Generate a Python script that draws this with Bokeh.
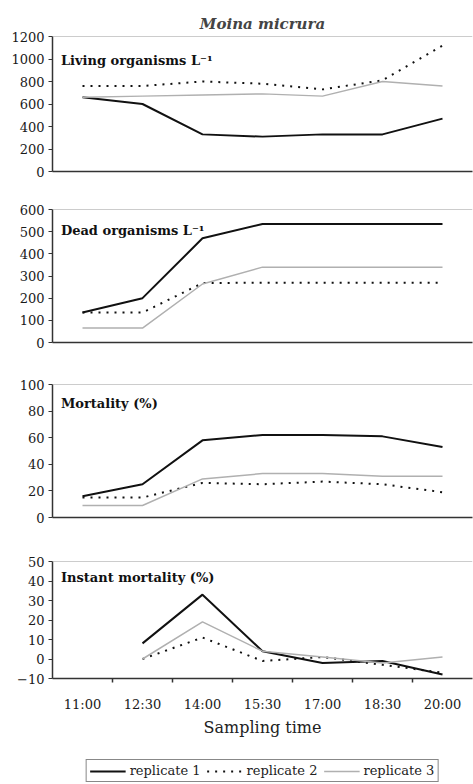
from bokeh.plotting import figure
from bokeh.models import (Range1d, LinearAxis, FixedTicker, Span,
                          Label, Legend, LegendItem)
from bokeh.layouts import column
from bokeh.embed import file_html
from bokeh.resources import INLINE

# ---------------- data ----------------
times = ["11:00", "12:30", "14:00", "15:30", "17:00", "18:30", "20:00"]
series_names = ["replicate 1", "replicate 2", "replicate 3"]

living_r1 = [660, 600, 330, 310, 330, 330, 470]
living_r2 = [760, 760, 800, 780, 730, 810, 1120]
living_r3 = [660, 670, 680, 690, 670, 800, 760]
living_ticks = [0, 200, 400, 600, 800, 1000, 1200]

dead_r1 = [135, 200, 470, 535, 535, 535, 535]
dead_r2 = [135, 135, 268, 270, 270, 270, 270]
dead_r3 = [65, 65, 264, 340, 340, 340, 340]
dead_ticks = [0, 100, 200, 300, 400, 500, 600]

mort_r1 = [16, 25, 58, 62, 62, 61, 53]
mort_r2 = [15, 15, 26, 25, 27, 25, 19]
mort_r3 = [9, 9, 29, 33, 33, 31, 31]
mort_ticks = [0, 20, 40, 60, 80, 100]

inst_times = times[1:]
inst_r1 = [8, 33, 4, -2, -1, -8]
inst_r2 = [0, 11, -1, 1, -3, -7]
inst_r3 = [0, 19, 4, 1, -2, 1]
inst_ticks = [-10, 0, 10, 20, 30, 40, 50]

# category slot centres on a numeric axis (category i occupies [i, i+1])
centres = {t: i + 0.5 for i, t in enumerate(times)}
boundaries = list(range(1, len(times)))

# ---------------- style ----------------
SERIF = "DejaVu Serif"
AX = "#333333"
styles = [
    dict(line_color="#111111", line_width=2),
    dict(line_color="#111111", line_width=2, line_dash="2 6"),
    dict(line_color="#b0b0b0", line_width=1.5),
]


def make_panel(cats, ys_list, ticks, label_text, label_y, frame_h, top, bottom, last=False):
    p = figure(x_range=Range1d(0, len(times)), y_range=Range1d(ticks[0], ticks[-1]),
               frame_width=420, frame_height=frame_h,
               min_border_left=52, min_border_right=1,
               min_border_top=top, min_border_bottom=bottom,
               x_axis_location=None, toolbar_location=None,
               output_backend="svg", background_fill_color="white",
               border_fill_color="white")
    p.outline_line_color = None
    p.xgrid.grid_line_color = None
    p.ygrid.grid_line_color = None

    ya = p.yaxis[0]
    ya.ticker = FixedTicker(ticks=ticks)
    ya.axis_line_color = AX
    ya.axis_line_width = 1.5
    ya.major_tick_line_color = AX
    ya.major_tick_out = 4
    ya.major_tick_in = 0
    ya.minor_tick_line_color = None
    ya.major_label_standoff = 4
    ya.major_label_text_font = SERIF
    ya.major_label_text_font_size = "13px"
    ya.major_label_text_color = "#1a1a1a"

    if last:
        xa = LinearAxis(ticker=FixedTicker(ticks=[centres[t] for t in times],
                                           minor_ticks=boundaries),
                        major_label_overrides={centres[t]: t for t in times},
                        axis_line_color=AX, axis_line_width=1.5,
                        major_tick_line_color=None, major_tick_out=0, major_tick_in=0,
                        minor_tick_line_color=AX, minor_tick_out=4, minor_tick_in=0,
                        minor_tick_line_width=1.5,
                        major_label_standoff=14,
                        major_label_text_font=SERIF,
                        major_label_text_font_size="13px",
                        major_label_text_color="#1a1a1a",
                        axis_label="Sampling time",
                        axis_label_text_font=SERIF,
                        axis_label_text_font_style="normal",
                        axis_label_text_font_size="16px",
                        axis_label_text_color="#222222",
                        axis_label_standoff=3)
    else:
        xa = LinearAxis(ticker=FixedTicker(ticks=[]),
                        axis_line_color=AX, axis_line_width=1.5,
                        major_tick_line_color=None, minor_tick_line_color=None,
                        major_tick_out=0, major_tick_in=0)
    p.add_layout(xa, "below")

    xs = [centres[t] for t in cats]
    renderers = []
    for ys, st in zip(ys_list, styles):
        r = p.line(xs, ys, **st)
        renderers.append(r)

    p.add_layout(Span(location=ticks[-1], dimension="width", line_color="#9a9a9a", line_width=1))

    p.add_layout(Label(x=0.14, y=label_y, text=label_text,
                       text_font=SERIF, text_font_style="bold", text_font_size="13px",
                       text_baseline="middle", text_color="#111111"))
    return p, renderers


p1, _ = make_panel(times, [living_r1, living_r2, living_r3], living_ticks,
                   "Living organisms L\u207b\u00b9", 990, 135, 36, 19)
p1.title.text = "Moina micrura"
p1.title.align = "center"
p1.title.text_font = SERIF
p1.title.text_font_style = "bold italic"
p1.title.text_font_size = "15px"
p1.title.standoff = 8

p2, _ = make_panel(times, [dead_r1, dead_r2, dead_r3], dead_ticks,
                   "Dead organisms L\u207b\u00b9", 505, 133, 19, 21)
p3, _ = make_panel(times, [mort_r1, mort_r2, mort_r3], mort_ticks,
                   "Mortality (%)", 86, 133, 21, 22)
p4, _ = make_panel(inst_times, [inst_r1, inst_r2, inst_r3], inst_ticks,
                   "Instant mortality (%)", 42, 117, 22, 70, last=True)

# legend strip: its own small canvas; the series are re-drawn there far outside
# the visible range so only the legend (which needs real renderers) shows.
p5 = figure(x_range=Range1d(100, 101), y_range=Range1d(1000, 1001),
            frame_width=420, frame_height=36,
            min_border_left=52, min_border_right=1,
            min_border_top=0, min_border_bottom=0,
            x_axis_location=None, y_axis_location=None, toolbar_location=None,
            output_backend="svg", background_fill_color="white",
            border_fill_color="white")
p5.outline_line_color = None
p5.xgrid.grid_line_color = None
p5.ygrid.grid_line_color = None
inst_xs = [centres[t] for t in inst_times]
leg_rs = [p5.line(inst_xs, ys, **st) for ys, st in zip([inst_r1, inst_r2, inst_r3], styles)]

legend = Legend(items=[LegendItem(label=n, renderers=[r]) for n, r in zip(series_names, leg_rs)],
                orientation="horizontal", location="bottom_center",
                border_line_color="#111111", border_line_width=1.5,
                label_text_font=SERIF, label_text_font_size="13px",
                label_text_color="#222222",
                glyph_width=36, glyph_height=14, label_height=14,
                label_standoff=4, spacing=6, padding=3, margin=2)
p5.add_layout(legend)

layout = column(p1, p2, p3, p4, p5, spacing=0)
open("out.html", "w").write(file_html(layout, INLINE))
